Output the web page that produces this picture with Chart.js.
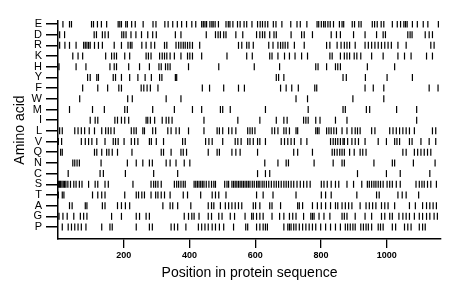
<!DOCTYPE html>
<html>
<head>
<meta charset="utf-8">
<script src="https://cdn.jsdelivr.net/npm/chart.js@4/dist/chart.umd.min.js"></script>
<style>
  html, body { margin: 0; padding: 0; background: #fff; }
  #wrap { width: 460px; height: 299px; }
</style>
</head>
<body>
<div id="wrap"><canvas id="barcode"></canvas></div>
<script>
// amino acids, top to bottom
const aminoAcids = ['E','D','R','K','H','Y','F','W','M','I','L','V','Q','N','C','S','T','A','G','P'];
const xTicks = [200, 400, 600, 800, 1000];
const seqLength = 1165;

// positions of each residue in the sequence
const posE = [15,35,41,102,108,120,132,148,183,188,193,206,211,224,235,259,289,298,325,335,349,363,376,391,407,419,437,442,447,452,462,468,472,478,488,511,518,523,532,546,554,566,574,590,607,615,622,630,638,655,663,681,708,727,737,757,788,793,801,808,813,821,828,838,856,864,869,895,902,915,922,956,963,971,983,991,1017,1032,1042,1052,1057,1062,1078,1093,1111,1125,1157];
const posD = [5,20,110,117,135,143,153,194,200,207,222,237,254,273,288,299,357,374,451,479,487,494,504,511,541,562,604,614,622,629,644,657,664,709,741,749,774,831,847,859,899,934,969,989,996,1064,1071,1077,1117,1129,1139];
const posR = [5,21,35,55,78,83,88,93,98,111,123,135,171,193,213,220,225,255,268,283,294,324,331,359,367,374,381,387,394,401,409,431,549,559,574,581,594,641,654,669,677,684,691,699,719,749,817,827,849,861,871,879,887,904,934,944,954,964,974,984,994,1004,1014,1034,1059,1134,1144];
const posK = [45,61,75,145,163,171,178,203,218,268,275,283,309,317,324,331,341,354,374,394,401,409,437,514,574,591,644,651,669,689,704,721,741,759,827,834,859,871,879,887,901,909,921,954,989,1034,1054,1074,1121,1139];
const posH = [3,55,85,158,171,178,215,248,278,307,314,327,334,341,397,489,597,674,784,791,817,844,851,859,941,1024];
const posY = [90,98,118,123,168,175,193,218,243,265,284,309,316,357,361,664,671,687,867,877,935,1001,1078];
const posF = [75,121,151,185,193,253,261,271,281,304,439,461,504,549,567,677,694,711,731,781,787,934,959,991,1129,1156];
const posW = [66,212,226,329,374,724,759,897,991];
const posM = [35,105,141,203,211,288,354,409,437,494,501,524,631,761,867,874,938,948,1030,1091];
const posI = [98,113,121,173,181,193,203,215,268,273,281,294,317,329,337,347,444,547,614,664,687,697,747,754,761,784,797,844,879,1091];
const posL = [5,13,51,61,71,81,95,111,133,145,153,161,171,223,231,238,258,263,288,297,334,344,359,369,397,444,484,491,501,519,529,541,577,584,591,599,651,659,669,687,694,704,724,729,784,789,794,817,824,831,839,847,864,879,894,904,911,919,954,964,1009,1019,1029,1039,1049,1059,1069,1084,1139,1149];
const posV = [1,11,71,83,93,103,118,143,168,175,183,201,223,233,243,278,284,299,321,379,387,449,459,469,501,539,547,557,577,584,594,607,614,631,679,689,699,709,719,739,757,829,837,844,851,859,867,871,881,894,904,914,934,974,999,1024,1031,1039,1069,1077,1104,1129,1149];
const posQ = [8,13,111,118,133,148,155,165,181,225,314,321,344,374,381,391,457,484,491,529,541,554,607,717,729,774,834,841,849,857,864,871,887,901,919,927,937,1049,1059,1084,1094,1104,1114,1124,1134];
const posN = [45,51,58,65,131,211,238,258,278,287,329,341,359,384,401,629,669,694,701,779,837,864,871,961,1017,1024,1081,1147];
const posC = [31,128,138,205,291,364,607,631,644,911,999,1041,1131];
const posS = [2,5,8,12,16,20,24,30,38,48,55,65,73,93,113,121,143,153,228,283,291,297,304,314,354,361,367,374,381,387,414,419,424,429,434,439,444,451,459,467,474,479,507,514,519,529,534,539,544,549,554,559,564,569,574,579,584,591,597,604,609,614,621,627,634,641,649,657,664,671,679,687,694,701,709,717,727,737,747,757,767,801,809,819,831,844,854,879,899,924,941,947,954,961,967,974,981,989,1001,1009,1017,1029,1041,1089,1099,1107,1114,1124,1134,1151];
const posT = [1,13,18,105,121,133,143,203,238,245,255,263,283,297,304,314,324,341,381,394,434,469,479,489,511,604,624,654,724,801,814,831,909,969,977,1034,1047,1059,1097];
const posA = [35,43,83,88,135,143,181,193,205,218,319,341,349,364,404,457,467,474,494,509,519,529,539,549,559,594,601,614,644,651,677,729,734,744,774,789,801,814,829,844,851,864,874,884,894,919,937,947,957,967,984,994,1004,1024,1069,1087,1109,1121,1131,1141,1151];
const posG = [3,15,28,48,68,78,88,163,193,238,248,268,278,384,397,407,414,429,457,467,489,499,524,537,569,589,594,604,614,624,651,674,687,704,714,724,747,769,774,779,794,809,827,864,871,879,904,934,954,984,994,1009,1017,1037,1049,1059,1069,1084,1099,1109,1121,1131,1144,1154];
const posP = [13,31,41,51,61,71,85,133,158,165,238,278,287,344,354,364,389,427,437,447,457,469,479,491,504,534,571,577,604,614,624,631,637,687,699,704,709,717,724,734,744,754,764,774,784,799,814,829,844,859,874,881,889,897,904,921,929,937,944,954,974,981,989,1017,1027,1054,1064,1074,1099,1109,1117];

const rows = [posE,posD,posR,posK,posH,posY,posF,posW,posM,posI,posL,posV,posQ,posN,posC,posS,posT,posA,posG,posP];
const nRows = aminoAcids.length;

const FONT = '"Liberation Sans", Arial, Helvetica, sans-serif';

// row i sits at y = nRows-1-i, so E is on top
let datasets = rows.map(function(list, i) {
  return {
    label: aminoAcids[i],
    data: list.map(function(p) { return {x: p, y: nRows - 1 - i}; }),
    pointStyle: 'line',
    rotation: 90,
    pointRadius: 3.5,
    pointHoverRadius: 3.5,
    pointBorderWidth: 1.2,
    borderColor: '#000',
    backgroundColor: '#000',
  };
});

let ctx = document.getElementById('barcode');

new Chart(ctx, {
  type: 'scatter',
  data: { datasets: datasets },
  options: {
    responsive: true,
    maintainAspectRatio: false,
    animation: false,
    events: [],
    layout: { padding: { top: 21, right: 19, left: 0, bottom: 0 } },
    plugins: {
      legend: { display: false },
      tooltip: { enabled: false },
    },
    scales: {
      x: {
        type: 'linear',
        min: 0,
        max: seqLength,
        afterBuildTicks: function(scale) {
          scale.ticks = xTicks.map(function(v) { return {value: v}; });
        },
        afterFit: function(scale) { scale.height = 60; },
        border: { display: true, color: '#000', width: 1.5 },
        grid: { drawOnChartArea: false, color: '#000', lineWidth: 1.3, tickColor: '#000', tickWidth: 1.3, tickLength: 9 },
        ticks: {
          color: '#000',
          padding: 2,
          maxRotation: 0,
          font: { family: FONT, size: 9, weight: 'bold' },
          callback: function(v) { return String(v); },
        },
        title: {
          display: true,
          text: 'Position in protein sequence',
          color: '#000',
          font: { family: FONT, size: 14 },
          padding: { top: 0, bottom: 17 },
        },
      },
      y: {
        type: 'linear',
        min: -1.12,
        max: nRows - 1 + 0.28,
        afterFit: function(scale) { scale.width = 58; },
        border: { display: true, color: '#000', width: 1.5 },
        grid: { drawOnChartArea: false, color: '#000', lineWidth: 1.5, tickColor: '#000', tickWidth: 1.5, tickLength: 12 },
        ticks: {
          color: '#000',
          padding: 4,
          stepSize: 1,
          includeBounds: false,
          autoSkip: false,
          font: { family: FONT, size: 11 },
          callback: function(v) {
            let k = nRows - 1 - Math.round(v);
            return aminoAcids[k];
          },
        },
        title: {
          display: true,
          text: 'Amino acid',
          color: '#000',
          font: { family: FONT, size: 14 },
          padding: { top: 12, bottom: 0 },
        },
      },
    },
  },
});
</script>
</body>
</html>
